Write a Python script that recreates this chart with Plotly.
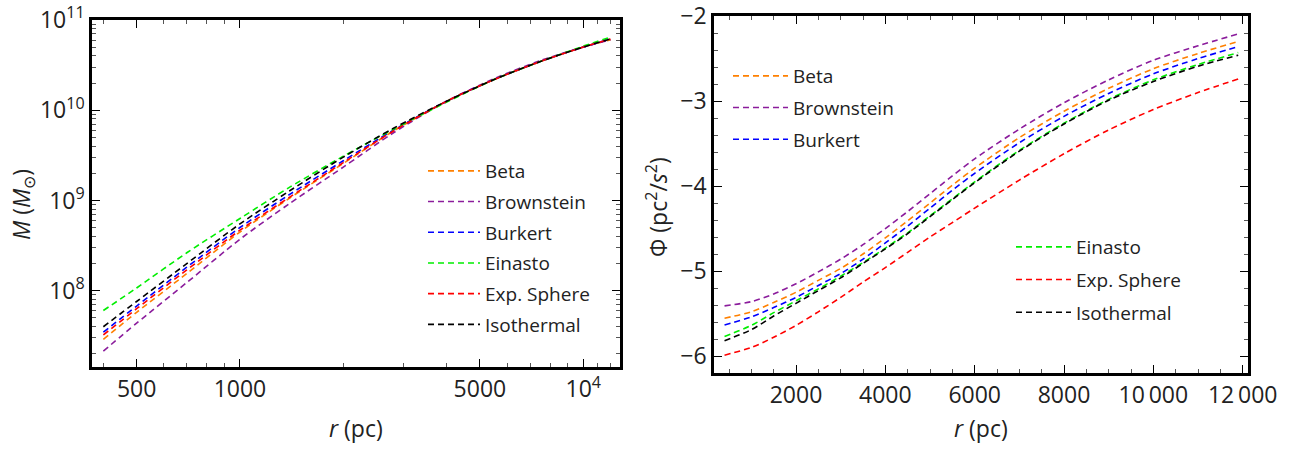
import numpy as np
import plotly.graph_objects as go

W, H = 1306, 455

# ---------------- data: left panel, enclosed mass M(r) ----------------
r_mass = [400, 500, 700, 1000, 1400, 2000, 2800, 4000, 5500, 7500, 10000, 12000]
# log10(M / M_sun)
logM_beta       = [7.46, 7.76, 8.19, 8.65, 9.03, 9.41, 9.77, 10.10, 10.34, 10.54, 10.70, 10.78]
logM_brownstein = [7.33, 7.64, 8.09, 8.57, 8.97, 9.37, 9.75, 10.10, 10.35, 10.55, 10.70, 10.78]
logM_burkert    = [7.54, 7.83, 8.26, 8.70, 9.07, 9.44, 9.78, 10.10, 10.34, 10.54, 10.70, 10.79]
logM_einasto    = [7.78, 8.03, 8.42, 8.80, 9.15, 9.49, 9.79, 10.09, 10.34, 10.54, 10.71, 10.81]
logM_expsphere  = [7.51, 7.80, 8.23, 8.67, 9.04, 9.42, 9.77, 10.10, 10.34, 10.54, 10.70, 10.79]
logM_isothermal = [7.60, 7.88, 8.30, 8.74, 9.11, 9.48, 9.80, 10.10, 10.34, 10.54, 10.70, 10.79]

# ---------------- data: right panel, potential Phi(r) ----------------
r_phi = [400, 1000, 1500, 2000, 2500, 3000, 3500, 4000, 4500, 5000, 5500, 6000,
         7000, 8000, 9000, 10000, 11000, 11900]
phi_beta       = [-5.555, -5.48, -5.37, -5.25, -5.11, -4.97, -4.80, -4.61, -4.41, -4.20, -3.99, -3.79,
                  -3.43, -3.12, -2.85, -2.62, -2.44, -2.30]
phi_brownstein = [-5.41, -5.36, -5.27, -5.15, -5.01, -4.86, -4.69, -4.50, -4.30, -4.09, -3.88, -3.68,
                  -3.33, -3.02, -2.75, -2.52, -2.35, -2.21]
phi_burkert    = [-5.635, -5.54, -5.43, -5.31, -5.17, -5.03, -4.86, -4.67, -4.47, -4.26, -4.05, -3.85,
                  -3.49, -3.18, -2.91, -2.68, -2.50, -2.36]
phi_einasto    = [-5.77, -5.64, -5.49, -5.35, -5.21, -5.06, -4.90, -4.73, -4.55, -4.35, -4.15, -3.95,
                  -3.58, -3.26, -2.98, -2.75, -2.57, -2.43]
phi_expsphere  = [-5.99, -5.90, -5.78, -5.64, -5.48, -5.31, -5.13, -4.96, -4.78, -4.60, -4.43, -4.26,
                  -3.93, -3.62, -3.34, -3.10, -2.90, -2.74]
phi_isothermal = [-5.82, -5.69, -5.53, -5.38, -5.23, -5.08, -4.91, -4.74, -4.56, -4.36, -4.16, -3.96,
                  -3.59, -3.27, -2.99, -2.77, -2.59, -2.46]

names = ["Beta", "Brownstein", "Burkert", "Einasto", "Exp. Sphere", "Isothermal"]
colors = ["#FF8000", "#8B1C9C", "#0000FF", "#00EE00", "#FF0000", "#000000"]
mass_series = [logM_beta, logM_brownstein, logM_burkert, logM_einasto, logM_expsphere, logM_isothermal]
phi_series = [phi_beta, phi_brownstein, phi_burkert, phi_einasto, phi_expsphere, phi_isothermal]

# ticks
left_x_ticks = [500, 1000, 5000, 10000]
left_x_text = ["500", "1000", "5000", "10<sup>4</sup>"]
left_y_ticks = [1e8, 1e9, 1e10, 1e11]
left_y_text = ["10<sup>8</sup>", "10<sup>9</sup>", "10<sup>10</sup>", "10<sup>11</sup>"]
right_x_ticks = [2000, 4000, 6000, 8000, 10000, 12000]
right_x_text = ["2000", "4000", "6000", "8000", "10\u2009000", "12\u2009000"]
right_y_ticks = [-6, -5, -4, -3, -2]
right_y_text = ["\u22126", "\u22125", "\u22124", "\u22123", "\u22122"]

FONT = "Open Sans"
DASH = "6px,4px"


def px_x(p):
    return p / W


def px_y(p):
    return 1 - p / H


fig = go.Figure()

for name, col, ys in zip(names, colors, mass_series):
    fig.add_trace(go.Scatter(
        x=r_mass, y=10 ** np.array(ys), mode="lines", name=name, legendgroup="L" + name,
        line=dict(color=col, width=1.6, dash=DASH, shape="spline", smoothing=0.8),
        xaxis="x", yaxis="y", legend="legend"))

for i, (name, col, ys) in enumerate(zip(names, colors, phi_series)):
    fig.add_trace(go.Scatter(
        x=r_phi, y=ys, mode="lines", name=name, legendgroup="R" + name,
        line=dict(color=col, width=1.6, dash=DASH, shape="spline", smoothing=0.8),
        xaxis="x2", yaxis="y2", legend="legend2" if i < 3 else "legend3"))

# minor tick positions
left_x_minor = [400, 600, 700, 800, 900, 2000, 3000, 4000, 6000, 7000, 8000, 9000, 11000, 12000]
left_y_minor = []
for dec in [7, 8, 9, 10]:
    for m in range(2, 10):
        v = m * 10 ** dec
        if v > 10 ** 7.16:
            left_y_minor.append(v)

axis_common = dict(
    showgrid=False, zeroline=False, showline=True, linecolor="black", linewidth=2.5,
    mirror="ticks", ticks="inside", ticklen=8, tickwidth=1.3, tickcolor="black",
    tickfont=dict(family=FONT, size=23, color="#222"), automargin=False,
    ticklabeloverflow="allow",
)

legend_font = dict(family=FONT, size=19, color="#222")

fig.update_layout(
    width=W, height=H, margin=dict(l=0, r=0, t=0, b=0, autoexpand=False),
    paper_bgcolor="white", plot_bgcolor="white",
    font=dict(family=FONT, color="#222"),
    xaxis=dict(type="log", domain=[px_x(92), px_x(620)], range=[2.569, 4.107],
               tickvals=left_x_ticks, ticktext=left_x_text, anchor="y",
               minor=dict(tickvals=left_x_minor, ticks="inside", ticklen=4, tickcolor="#555",
                          tickwidth=1, showgrid=False),
               **axis_common),
    yaxis=dict(type="log", domain=[px_y(367), px_y(20)], range=[7.154, 11.0001],
               tickvals=left_y_ticks, ticktext=left_y_text, anchor="x",
               minor=dict(tickvals=left_y_minor, ticks="inside", ticklen=4, tickcolor="#555",
                          tickwidth=1, showgrid=False),
               **axis_common),
    xaxis2=dict(domain=[px_x(714), px_x(1248)], range=[164, 12119],
                tickvals=right_x_ticks, ticktext=right_x_text, anchor="y2",
                minor=dict(dtick=500, ticks="inside", ticklen=4, tickcolor="#555",
                           tickwidth=1, showgrid=False),
                **axis_common),
    yaxis2=dict(domain=[px_y(373), px_y(16)], range=[-6.2, -1.999],
                tickvals=right_y_ticks, ticktext=right_y_text, anchor="x2",
                minor=dict(dtick=0.2, ticks="inside", ticklen=4, tickcolor="#555",
                           tickwidth=1, showgrid=False),
                **axis_common),
    showlegend=True,
    legend=dict(x=px_x(423), y=px_y(152), xanchor="left", yanchor="top",
                bgcolor="rgba(0,0,0,0)", font=legend_font,
                itemwidth=52, tracegroupgap=3),
    legend2=dict(x=px_x(728), y=px_y(57), xanchor="left", yanchor="top",
                 bgcolor="rgba(0,0,0,0)", font=legend_font,
                 itemwidth=55, tracegroupgap=4),
    legend3=dict(x=px_x(1011), y=px_y(228), xanchor="left", yanchor="top",
                 bgcolor="rgba(0,0,0,0)", font=legend_font,
                 itemwidth=55, tracegroupgap=5),
)

# axis titles as annotations
title_font = dict(family=FONT, size=23, color="#222")
fig.add_annotation(x=px_x(356), y=px_y(428), xref="paper", yref="paper",
                   xanchor="center", yanchor="middle",
                   text="<i>r</i> (pc)", showarrow=False, font=title_font)
fig.add_annotation(x=px_x(981), y=px_y(428), xref="paper", yref="paper",
                   xanchor="center", yanchor="middle",
                   text="<i>r</i> (pc)", showarrow=False, font=title_font)
fig.add_annotation(x=px_x(23), y=px_y(205), xref="paper", yref="paper",
                   xanchor="center", yanchor="middle",
                   text="<i>M</i> (<i>M</i><sub>\u2299</sub>)", showarrow=False,
                   textangle=-90, font=title_font)
fig.add_annotation(x=px_x(657), y=px_y(207), xref="paper", yref="paper",
                   xanchor="center", yanchor="middle",
                   text="\u03a6 (pc<sup>2</sup>/<i>s</i><sup>2</sup>)", showarrow=False,
                   textangle=-90, font=title_font)

fig.write_html("out.html")
